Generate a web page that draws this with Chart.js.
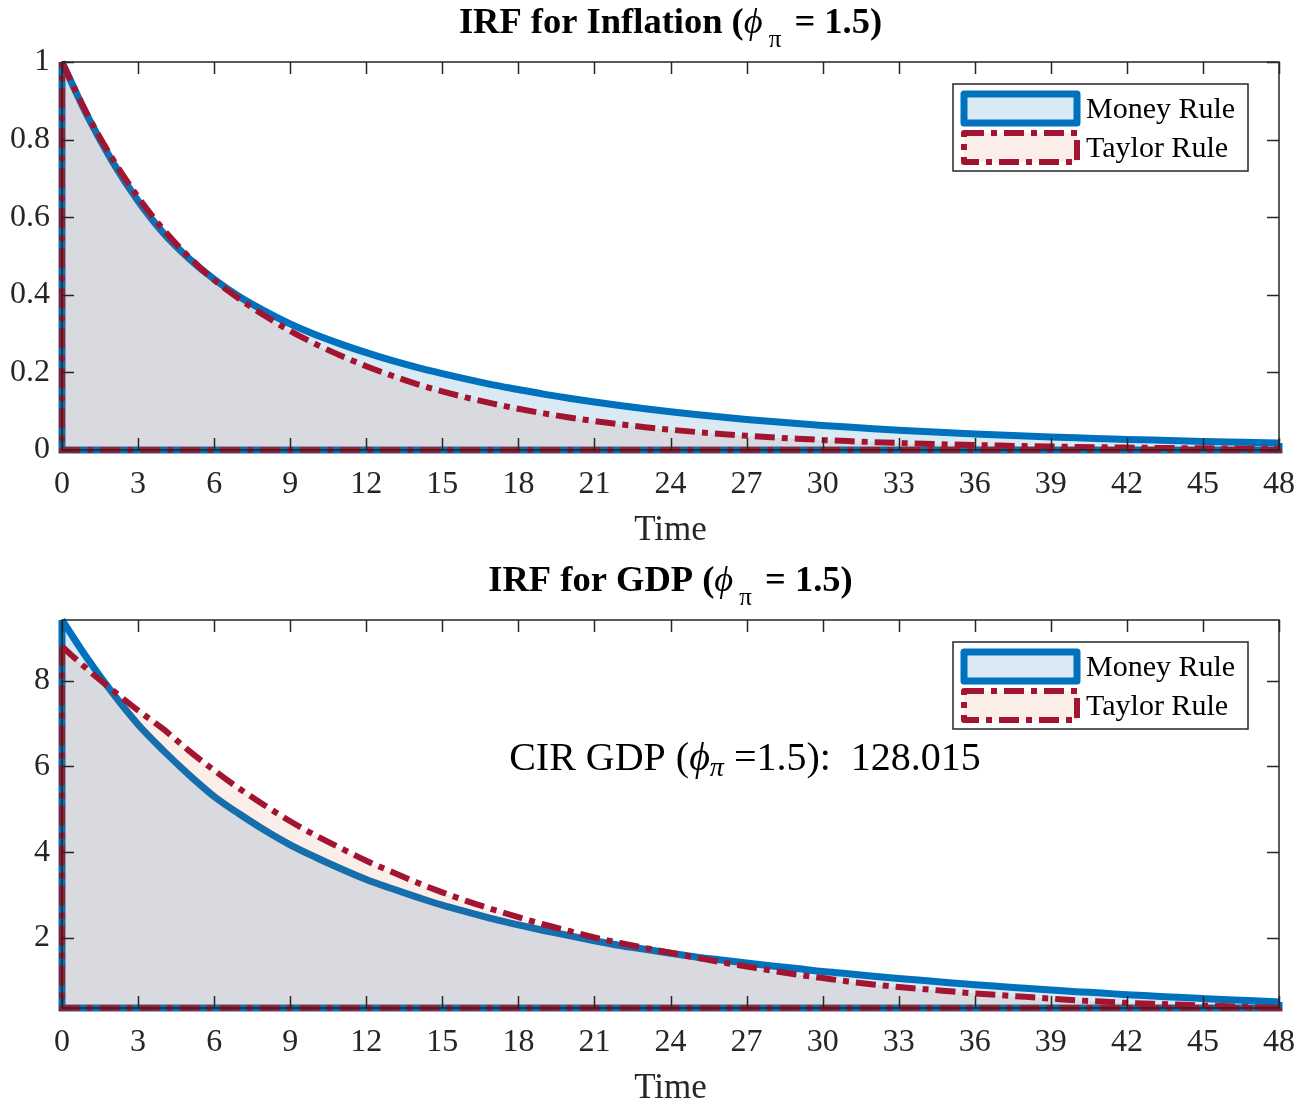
<!DOCTYPE html>
<html>
<head>
<meta charset="utf-8">
<script src="https://cdn.jsdelivr.net/npm/chart.js@4.4.1/dist/chart.umd.min.js"></script>
<style>
  html, body { margin: 0; padding: 0; background: #fff; overflow: hidden; width: 1309px; height: 1104px; }
  .panel { position: absolute; left: 0; width: 1309px; height: 552px; }
  #inflPanel { top: 0; }
  #gdpPanel { top: 558px; }
</style>
</head>
<body>
<div class="panel" id="inflPanel"><canvas id="inflChart" width="1309" height="552"></canvas></div>
<div class="panel" id="gdpPanel"><canvas id="gdpChart" width="1309" height="552"></canvas></div>
<script>
(function () {
    "use strict";

    // periods after the shock
    const periods = [0, 1, 2, 3, 4, 5, 6, 7, 8, 9, 10, 11, 12, 13, 14, 15, 16, 17, 18, 19, 20,
        21, 22, 23, 24, 25, 26, 27, 28, 29, 30, 31, 32, 33, 34, 35, 36, 37, 38, 39, 40,
        41, 42, 43, 44, 45, 46, 47, 48];

    // IRF for inflation
    const inflMoney = [1.000, 0.861, 0.742, 0.642, 0.559, 0.494, 0.440, 0.395, 0.358, 0.325,
        0.297, 0.273, 0.251, 0.231, 0.213, 0.197, 0.182, 0.168, 0.156, 0.144,
        0.1335, 0.1236, 0.1145, 0.1061, 0.0985, 0.0914, 0.0849, 0.0788, 0.0732, 0.0681,
        0.0634, 0.0590, 0.0549, 0.0511, 0.0476, 0.0444, 0.0414, 0.0386, 0.0360, 0.0336,
        0.0314, 0.0293, 0.0273, 0.0255, 0.0238, 0.0222, 0.0207, 0.0194, 0.0181];
    const inflTaylor = [1.000, 0.865, 0.750, 0.652, 0.568, 0.498, 0.438, 0.389, 0.346, 0.307,
        0.273, 0.243, 0.216, 0.192, 0.170, 0.151, 0.1345, 0.1195, 0.1062, 0.0944,
        0.0839, 0.0746, 0.0663, 0.0589, 0.0523, 0.0465, 0.0413, 0.0367, 0.0327, 0.0290,
        0.0258, 0.0229, 0.0204, 0.0181, 0.0161, 0.0143, 0.0127, 0.0113, 0.0100, 0.0089,
        0.0079, 0.0070, 0.0062, 0.0055, 0.0049, 0.0044, 0.0039, 0.0035, 0.0031];

    // IRF for GDP
    const gdpMoney = [9.42, 8.52, 7.71, 6.98, 6.37, 5.81, 5.30, 4.89, 4.51, 4.17,
        3.88, 3.61, 3.36, 3.15, 2.95, 2.76, 2.60, 2.44, 2.30, 2.17,
        2.05, 1.93, 1.82, 1.73, 1.64, 1.55, 1.48, 1.41, 1.34, 1.28,
        1.21, 1.16, 1.10, 1.05, 1.00, 0.95, 0.905, 0.86, 0.82, 0.78,
        0.74, 0.71, 0.67, 0.64, 0.61, 0.58, 0.55, 0.53, 0.50];
    const gdpTaylor = [8.80, 8.27, 7.78, 7.31, 6.87, 6.37, 5.91, 5.48, 5.09, 4.72,
        4.39, 4.09, 3.80, 3.54, 3.29, 3.06, 2.85, 2.66, 2.48, 2.31,
        2.16, 2.01, 1.88, 1.76, 1.65, 1.54, 1.43, 1.33, 1.23, 1.14,
        1.06, 0.98, 0.91, 0.85, 0.80, 0.75, 0.70, 0.66, 0.62, 0.58,
        0.54, 0.51, 0.48, 0.46, 0.44, 0.42, 0.40, 0.38, 0.37];

    const xTicks = [0, 3, 6, 9, 12, 15, 18, 21, 24, 27, 30, 33, 36, 39, 42, 45, 48];
    const inflTicks = [0, 0.2, 0.4, 0.6, 0.8, 1];
    const gdpTicks = [2, 4, 6, 8];
    const seriesNames = ['Money Rule', 'Taylor Rule'];
    const cirText = '128.015';

    const BLUE = '#0072BD';
    const BLUE_FILL = 'rgba(0, 114, 189, 0.15)';
    const RED = '#A2142F';
    const RED_FILL = 'rgba(217, 83, 25, 0.10)';
    const AXIS = '#262626';
    const DASHDOT = [20, 7, 6, 7];
    const SERIF = '"Liberation Serif", "Times New Roman", serif';

    Chart.defaults.font.family = SERIF;
    Chart.defaults.color = AXIS;

    function toPoints(values) {
        return periods.map(function (t, i) { return { x: t, y: values[i] }; });
    }

    // closing edges of the filled patch: right side, bottom and left side
    function edgePoints(values, base) {
        var last = periods.length - 1;
        return [
            { x: periods[last], y: values[last] },
            { x: periods[last], y: base },
            { x: periods[0], y: base },
            { x: periods[0], y: values[0] }
        ];
    }

    function drawPieces(ctx, pieces, cx, baseY, color) {
        var total = 0;
        pieces.forEach(function (p) {
            ctx.font = p.font;
            p.w = ctx.measureText(p.text).width + (p.gap || 0);
            total += p.w;
        });
        var x = cx - total / 2;
        ctx.fillStyle = color;
        ctx.textAlign = 'left';
        ctx.textBaseline = 'alphabetic';
        pieces.forEach(function (p) {
            ctx.font = p.font;
            ctx.fillText(p.text, x + (p.gap || 0), baseY + (p.dy || 0));
            x += p.w;
        });
    }

    const framePlugin = {
        id: 'frame',
        afterDraw: function (chart, args, opts) {
            var ctx = chart.ctx;
            var a = chart.chartArea;
            var xs = chart.scales.x, ys = chart.scales.y;
            ctx.save();

            // box and inward ticks
            ctx.strokeStyle = AXIS;
            ctx.lineWidth = 1.5;
            ctx.setLineDash([]);
            ctx.strokeRect(a.left, a.top, a.right - a.left, a.bottom - a.top);
            ctx.beginPath();
            xTicks.forEach(function (v) {
                var px = Math.round(xs.getPixelForValue(v)) + 0.5;
                ctx.moveTo(px, a.bottom); ctx.lineTo(px, a.bottom - 12);
                ctx.moveTo(px, a.top); ctx.lineTo(px, a.top + 12);
            });
            opts.yTicks.forEach(function (v) {
                var py = Math.round(ys.getPixelForValue(v)) + 0.5;
                ctx.moveTo(a.left, py); ctx.lineTo(a.left + 12, py);
                ctx.moveTo(a.right, py); ctx.lineTo(a.right - 12, py);
            });
            ctx.stroke();

            // title
            var cx = (a.left + a.right) / 2;
            drawPieces(ctx, [
                { text: opts.title, font: 'bold 36.5px ' + SERIF },
                { text: '\u03D5', font: 'italic 36.5px ' + SERIF },
                { text: '\u03C0', font: '25px ' + SERIF, dy: 14, gap: 6 },
                { text: ' = 1.5)', font: 'bold 36.5px ' + SERIF, gap: 4 }
            ], cx, a.top - 29, '#000');

            // legend
            var lx = a.right - 326, ly = a.top + 22, lw = 295, lh = 87;
            ctx.fillStyle = '#fff';
            ctx.fillRect(lx, ly, lw, lh);
            ctx.strokeStyle = AXIS;
            ctx.lineWidth = 1.5;
            ctx.strokeRect(lx, ly, lw, lh);
            var entries = [chart.data.datasets[2], chart.data.datasets[0]];
            entries.forEach(function (ds, i) {
                var sy = ly + 10 + i * 39;
                ctx.fillStyle = ds.backgroundColor;
                ctx.fillRect(lx + 11, sy, 113, 29);
                ctx.strokeStyle = ds.borderColor;
                ctx.lineWidth = ds.borderWidth;
                ctx.lineJoin = 'round';
                ctx.setLineDash(ds.borderDash || []);
                ctx.strokeRect(lx + 11, sy, 113, 29);
                ctx.setLineDash([]);
                ctx.fillStyle = '#000';
                ctx.font = '30px ' + SERIF;
                ctx.textAlign = 'left';
                ctx.textBaseline = 'alphabetic';
                ctx.fillText(seriesNames[i], lx + 133, sy + 24);
            });

            // cumulative impulse response note
            if (opts.note) {
                drawPieces(ctx, [
                    { text: 'CIR GDP (', font: '40px ' + SERIF },
                    { text: '\u03D5', font: 'italic 40px ' + SERIF },
                    { text: '\u03C0', font: 'italic 28px ' + SERIF, dy: 6 },
                    { text: ' =1.5):  ' + opts.note, font: '40px ' + SERIF }
                ], 745, a.top + 150, '#000');
            }
            ctx.restore();
        }
    };

    function buildChart(canvasId, money, taylor, yMin, yMax, yTicks, title, note) {
        return new Chart(document.getElementById(canvasId), {
            type: 'line',
            data: {
                datasets: [{
                    label: seriesNames[1],
                    data: toPoints(taylor),
                    borderColor: RED,
                    borderWidth: 6,
                    borderDash: DASHDOT,
                    backgroundColor: RED_FILL,
                    fill: 'start',
                    pointRadius: 0,
                    clip: false,
                    cubicInterpolationMode: 'monotone'
                }, {
                    label: 'taylor edge',
                    data: edgePoints(taylor, yMin),
                    borderColor: RED,
                    borderWidth: 6,
                    borderDash: DASHDOT,
                    fill: false,
                    pointRadius: 0,
                    clip: false
                }, {
                    label: seriesNames[0],
                    data: toPoints(money),
                    borderColor: BLUE,
                    borderWidth: 7,
                    backgroundColor: BLUE_FILL,
                    fill: 'start',
                    pointRadius: 0,
                    clip: false,
                    cubicInterpolationMode: 'monotone'
                }, {
                    label: 'money edge',
                    data: edgePoints(money, yMin),
                    borderColor: BLUE,
                    borderWidth: 7,
                    fill: false,
                    pointRadius: 0,
                    clip: false
                }]
            },
            options: {
                responsive: false,
                animation: false,
                layout: { padding: { top: 62, right: 30, left: 0, bottom: 0 } },
                plugins: {
                    legend: { display: false },
                    tooltip: { enabled: false },
                    frame: { yTicks: yTicks, title: title, note: note }
                },
                scales: {
                    x: {
                        type: 'linear',
                        min: 0,
                        max: 48,
                        grid: { display: false },
                        border: { display: false },
                        afterFit: function (s) { s.height = 102; },
                        afterBuildTicks: function (s) { s.ticks = xTicks.map(function (v) { return { value: v }; }); },
                        ticks: { padding: 7, maxRotation: 0, autoSkip: false, font: { size: 32 }, color: AXIS },
                        title: { display: true, text: 'Time', font: { size: 35 }, color: AXIS, padding: { top: 0, bottom: 0 } }
                    },
                    y: {
                        min: yMin,
                        max: yMax,
                        grid: { display: false },
                        border: { display: false },
                        afterFit: function (s) { s.width = 62; },
                        afterBuildTicks: function (s) { s.ticks = yTicks.map(function (v) { return { value: v }; }); },
                        ticks: { padding: 4, font: { size: 32 }, color: AXIS, callback: function (v) { return String(v); } }
                    }
                }
            },
            plugins: [framePlugin]
        });
    }

    buildChart('inflChart', inflMoney, inflTaylor, 0, 1, inflTicks, 'IRF for Inflation (', null);
    buildChart('gdpChart', gdpMoney, gdpTaylor, 0.36, 9.42, gdpTicks, 'IRF for GDP (', cirText);
})();
</script>
</body>
</html>
